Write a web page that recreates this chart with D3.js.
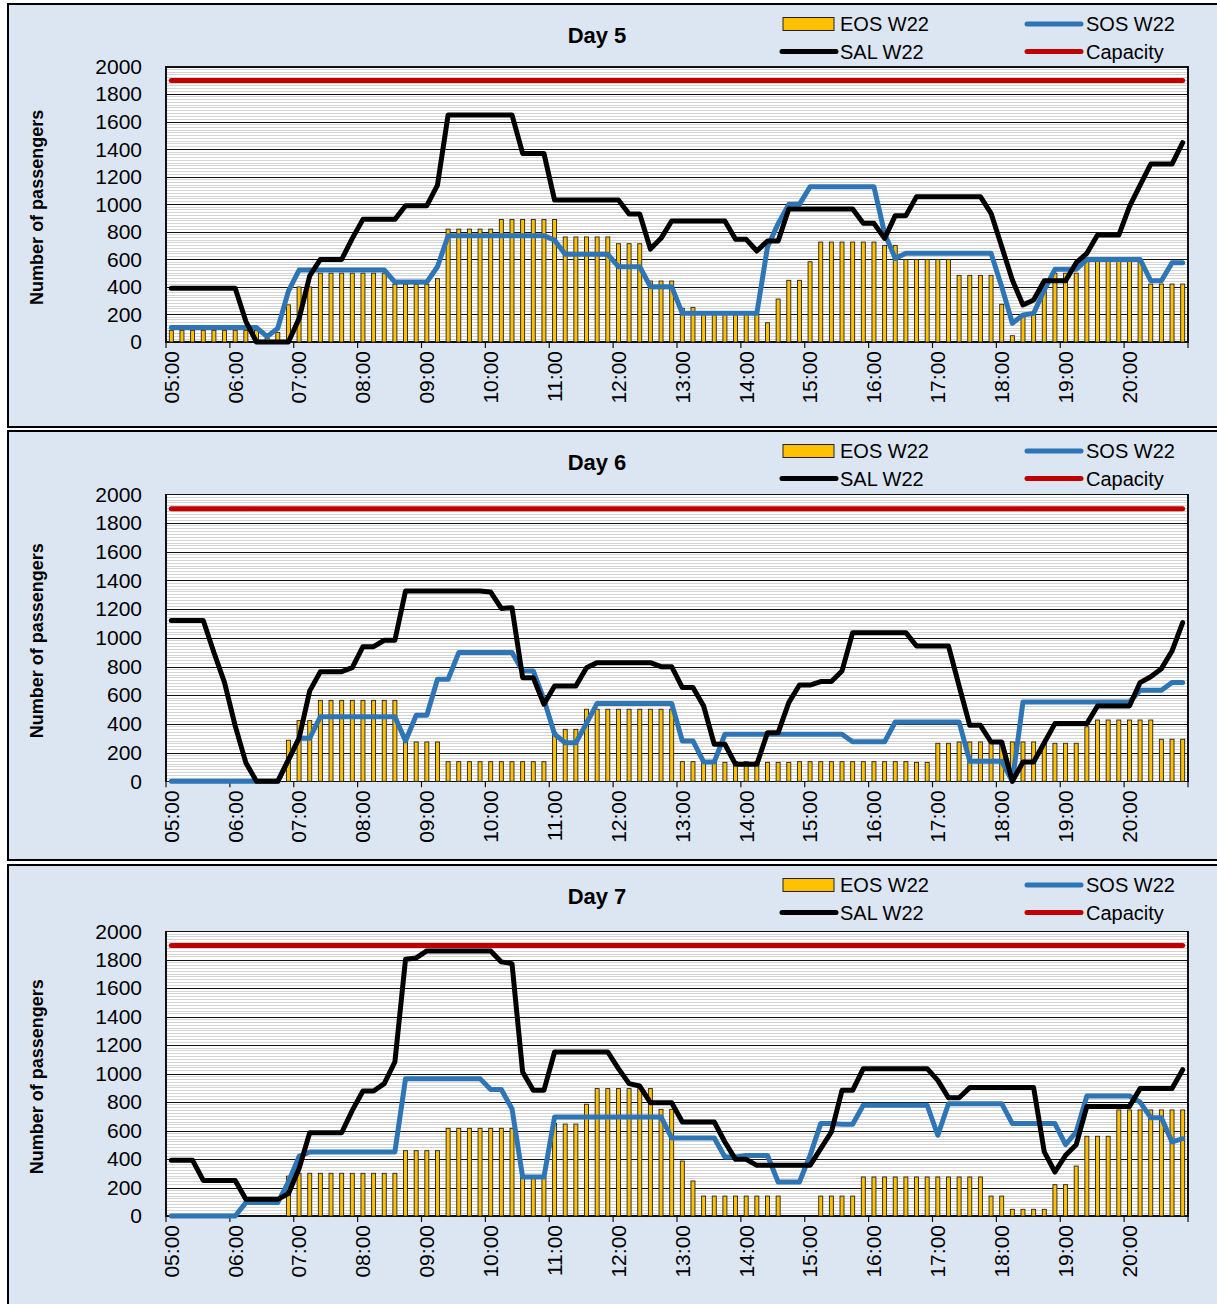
<!DOCTYPE html>
<html>
<head>
<meta charset="utf-8">
<script src="https://cdn.jsdelivr.net/npm/d3@7"></script>
<style>
  body { margin: 0; background: #fff; }
  svg text { font-family: "Liberation Sans", Arial, sans-serif; fill: #000; }
</style>
</head>
<body>
<div id="chart"></div>
<script>
var width = 1217, height = 1304;

// x tick labels (one per hour), categories are 10 minute slots
var tickLabels = ["05:00","06:00","07:00","08:00","09:00","10:00","11:00","12:00",
                  "13:00","14:00","15:00","16:00","17:00","18:00","19:00","20:00"];
var seriesNames = ["EOS W22", "SOS W22", "SAL W22", "Capacity"];
var capacity = 1900;

var day5Eos = [85,85,85,85,85,85,85,85,85,30,70,270,400,400,500,500,500,500,500,500,500,420,420,420,420,460,820,820,820,820,820,890,
  890,890,890,890,890,763,763,763,763,763,714,714,714,443,443,443,245,250,200,200,200,200,200,200,140,312,448,448,583,726,726,726,
  726,726,726,702,702,600,600,600,600,600,484,484,484,484,274,46,200,200,400,500,500,500,600,600,600,600,600,600,421,421,421,421];
var day5Sos = [105,105,105,105,105,105,105,105,105,39,100,370,523,523,523,523,523,523,523,523,523,435,435,435,435,547,772,772,772,772,772,772,
  772,772,772,772,740,637,637,637,637,637,547,547,547,402,402,402,208,208,208,208,208,208,208,208,690,860,1000,1000,1128,1128,1128,1128,
  1128,1128,1128,789,607,644,644,644,644,644,644,644,644,644,402,136,196,208,378,528,528,528,600,600,600,600,600,600,445,445,576,576];
var day5Sal = [390,390,390,390,390,390,390,150,0,0,0,0,170,480,600,600,600,753,891,891,891,891,990,990,990,1140,1650,1650,1650,1650,1650,1650,
  1650,1370,1370,1370,1031,1031,1031,1031,1031,1031,1031,930,930,675,753,879,879,879,879,879,879,746,746,661,734,734,966,966,966,966,966,966,
  966,862,862,753,918,918,1056,1056,1056,1056,1056,1056,1056,935,693,450,269,305,445,445,445,576,644,777,777,777,983,1140,1293,1293,1293,1448];

var day6Eos = [0,0,0,0,0,0,0,0,0,0,0,286,423,423,564,564,564,564,564,564,564,564,274,274,274,274,137,137,137,137,137,137,
  137,137,137,137,340,362,362,502,502,502,502,502,502,502,502,502,137,137,137,137,132,137,137,137,132,132,132,137,137,137,137,137,
  137,137,137,137,137,137,132,132,265,265,274,274,274,274,274,274,274,274,265,265,265,265,380,427,427,427,427,427,427,293,293,293];
var day6Sos = [0,0,0,0,0,0,0,0,0,0,0,150,300,300,450,450,450,450,450,450,450,450,281,460,460,711,711,897,897,897,897,897,
  897,769,769,571,328,269,269,404,543,543,543,543,543,543,543,543,281,281,135,135,328,328,328,328,328,328,328,328,328,328,328,328,
  275,275,275,275,413,413,413,413,413,413,413,139,139,139,139,0,553,553,553,553,553,553,553,553,553,553,553,634,634,634,688,688];
var day6Sal = [1120,1120,1120,1120,897,688,386,130,0,0,0,150,300,630,764,764,764,792,938,938,983,983,1326,1326,1326,1326,1326,1326,1326,1326,1319,1205,
  1210,722,722,537,664,664,664,792,827,827,827,827,827,827,799,799,653,653,525,258,258,118,118,118,339,339,548,671,671,695,695,769,
  1036,1036,1036,1036,1036,1036,943,943,943,943,664,390,390,274,274,0,135,135,269,402,402,402,402,525,525,525,525,688,729,785,908,1106];

var day7Eos = [0,0,0,0,0,0,0,0,0,0,0,280,300,300,300,300,300,300,300,300,300,300,459,459,459,459,616,616,616,616,616,616,
  616,274,274,274,650,646,646,785,895,895,895,895,895,895,749,749,386,246,140,140,140,140,140,140,140,140,0,0,0,140,140,140,
  140,274,274,274,274,274,274,274,274,274,274,274,274,140,140,47,47,47,47,220,220,351,560,560,560,745,745,745,745,745,745,745];
var day7Sos = [0,0,0,0,0,0,0,94,94,94,94,239,419,450,450,450,450,450,450,450,450,450,965,965,965,965,965,965,965,965,888,888,
  754,274,274,274,696,696,696,696,696,696,696,696,696,696,696,548,548,548,548,548,415,415,425,425,425,239,239,239,425,649,649,644,
  644,778,778,778,778,778,778,778,567,789,789,789,789,789,789,649,649,649,649,649,501,590,843,843,843,843,843,800,691,691,520,543];
var day7Sal = [391,391,391,250,250,250,250,117,117,117,117,157,333,585,585,585,585,742,878,878,930,1082,1803,1813,1862,1862,1862,1862,1862,1862,1862,1785,
  1773,1012,883,883,1152,1152,1152,1152,1152,1152,1035,930,913,796,796,796,660,660,660,660,520,398,398,356,356,356,356,356,356,473,590,883,
  883,1035,1035,1035,1035,1035,1035,1035,953,831,831,902,902,902,902,902,902,902,450,309,426,501,770,770,770,770,770,895,895,895,895,1028];

var panels = [
  {title: "Day 5", eos: day5Eos, sos: day5Sos, sal: day5Sal},
  {title: "Day 6", eos: day6Eos, sos: day6Sos, sal: day6Sal},
  {title: "Day 7", eos: day7Eos, sos: day7Sos, sal: day7Sal}
];
// box top/height and plot top/bottom for each panel
var layout = [
  {top: 4,   h: 423, plotTop: 66.7,  plotBottom: 342},
  {top: 431, h: 429, plotTop: 494.3, plotBottom: 781.3},
  {top: 865, h: 450, plotTop: 931.3, plotBottom: 1216}
];

var colEos = "#ffc000", colSos = "#2e75b6", colSal = "#000000", colCap = "#c00000";
var lineW = 5;

// 10 minute categories 05:00 .. 20:50
var times = [];
tickLabels.forEach(function(h) {
  ["00","10","20","30","40","50"].forEach(function(m) { times.push(h.slice(0, 3) + m); });
});

var plotLeft = 166, plotRight = 1188;
var x = d3.scaleBand().domain(times).range([plotLeft, plotRight]);
var bw = x.bandwidth();
function cx(t) { return x(t) + bw / 2; }

var svg = d3.select("#chart").append("svg")
  .attr("width", width)
  .attr("height", height);

panels.forEach(function(p, k) {
  var L = layout[k];
  var g = svg.append("g");

  g.append("rect")
    .attr("x", 8).attr("y", L.top)
    .attr("width", 1220).attr("height", L.h)
    .attr("fill", "#dce6f2")
    .attr("stroke", "#000").attr("stroke-width", 2);

  var y = d3.scaleLinear().domain([0, 2000]).range([L.plotBottom, L.plotTop]);

  g.append("rect")
    .attr("x", plotLeft).attr("y", L.plotTop)
    .attr("width", plotRight - plotLeft).attr("height", L.plotBottom - L.plotTop)
    .attr("fill", "#fff");

  // minor gridlines every 20
  g.selectAll(".minor")
    .data(d3.range(20, 2000, 20).filter(function(v) { return v % 200 !== 0; }))
    .enter().append("line")
      .attr("x1", plotLeft).attr("x2", plotRight)
      .attr("y1", function(d) { return y(d); })
      .attr("y2", function(d) { return y(d); })
      .attr("stroke", "#d4d4d4")
      .attr("stroke-width", 1)
      .attr("shape-rendering", "crispEdges");

  // major gridlines + labels
  var yAxis = g.append("g")
    .attr("transform", "translate(" + plotLeft + ",0)")
    .call(d3.axisLeft(y)
      .tickValues(d3.range(0, 2001, 200))
      .tickSize(-(plotRight - plotLeft))
      .tickPadding(24)
      .tickFormat(d3.format("d")));
  yAxis.select(".domain").remove();
  yAxis.selectAll(".tick line")
    .attr("stroke", "#111")
    .attr("shape-rendering", "crispEdges");
  yAxis.selectAll(".tick text")
    .attr("font-size", 21)
    .attr("font-family", "Liberation Sans, Arial, sans-serif")
    .attr("fill", "#000");

  g.append("rect")
    .attr("x", plotLeft).attr("y", L.plotTop)
    .attr("width", plotRight - plotLeft).attr("height", L.plotBottom - L.plotTop)
    .attr("fill", "none")
    .attr("stroke", "#111").attr("stroke-width", 1.2)
    .attr("shape-rendering", "crispEdges");

  // x ticks at hour boundaries
  var tickX = tickLabels.map(function(t) { return x(t); }).concat([plotRight]);
  g.selectAll(".xtick")
    .data(tickX)
    .enter().append("line")
      .attr("x1", function(d) { return d; })
      .attr("x2", function(d) { return d; })
      .attr("y1", L.plotBottom)
      .attr("y2", L.plotBottom + 6)
      .attr("stroke", "#111")
      .attr("stroke-width", 1.2);

  g.selectAll(".xlabel")
    .data(tickLabels)
    .enter().append("text")
      .attr("transform", function(d) {
        return "translate(" + cx(d) + "," + (L.plotBottom + 9) + ") rotate(-90)";
      })
      .attr("text-anchor", "end")
      .attr("dy", "0.35em")
      .attr("font-size", 21)
      .text(function(d) { return d; });

  // axis title
  g.append("text")
    .attr("transform", "translate(37," + ((L.plotTop + L.plotBottom) / 2 + 3) + ") rotate(-90)")
    .attr("text-anchor", "middle")
    .attr("dy", "0.35em")
    .attr("font-size", 18)
    .attr("font-weight", "bold")
    .text("Number of passengers");

  g.append("text")
    .attr("x", 597).attr("y", L.top + 31)
    .attr("text-anchor", "middle")
    .attr("dy", "0.35em")
    .attr("font-size", 22)
    .attr("font-weight", "bold")
    .text(p.title);

  // EOS bars
  g.selectAll(".bar")
    .data(p.eos.map(function(v, i) { return {t: times[i], v: v}; })
      .filter(function(d) { return d.v > 0; }))
    .enter().append("rect")
      .attr("x", function(d) { return cx(d.t) - 2; })
      .attr("y", function(d) { return y(d.v); })
      .attr("width", 4)
      .attr("height", function(d) { return L.plotBottom - y(d.v); })
      .attr("fill", colEos)
      .attr("stroke", "#222")
      .attr("stroke-width", 0.9);

  var line = d3.line()
    .x(function(d, i) { return cx(times[i]); })
    .y(function(d) { return y(d); });

  [[p.sos, colSos], [p.sal, colSal], [times.map(function() { return capacity; }), colCap]]
    .forEach(function(s) {
      g.append("path")
        .datum(s[0])
        .attr("d", line)
        .attr("fill", "none")
        .attr("stroke", s[1])
        .attr("stroke-width", lineW)
        .attr("stroke-linejoin", "round")
        .attr("stroke-linecap", "round");
    });

  // legend
  var lg = g.append("g").attr("transform", "translate(0," + L.top + ")");
  var r1 = 20, r2 = 47.5;
  lg.append("rect")
    .attr("x", 783).attr("y", r1 - 6.5).attr("width", 51).attr("height", 13)
    .attr("fill", colEos).attr("stroke", "#222").attr("stroke-width", 1);
  var legLines = [
    {x: 782, y: r2, c: colSal, name: seriesNames[2]},
    {x: 1027, y: r1, c: colSos, name: seriesNames[1]},
    {x: 1027, y: r2, c: colCap, name: seriesNames[3]}
  ];
  lg.selectAll(".legline")
    .data(legLines)
    .enter().append("line")
      .attr("x1", function(d) { return d.x; })
      .attr("x2", function(d) { return d.x + 54; })
      .attr("y1", function(d) { return d.y; })
      .attr("y2", function(d) { return d.y; })
      .attr("stroke", function(d) { return d.c; })
      .attr("stroke-width", lineW)
      .attr("stroke-linecap", "round");
  var legText = [
    {x: 840, y: r1, name: seriesNames[0]},
    {x: 840, y: r2, name: seriesNames[2]},
    {x: 1086, y: r1, name: seriesNames[1]},
    {x: 1086, y: r2, name: seriesNames[3]}
  ];
  lg.selectAll(".legtext")
    .data(legText)
    .enter().append("text")
      .attr("x", function(d) { return d.x; })
      .attr("y", function(d) { return d.y; })
      .attr("dy", "0.35em")
      .attr("font-size", 20)
      .text(function(d) { return d.name; });
});
</script>
</body>
</html>
